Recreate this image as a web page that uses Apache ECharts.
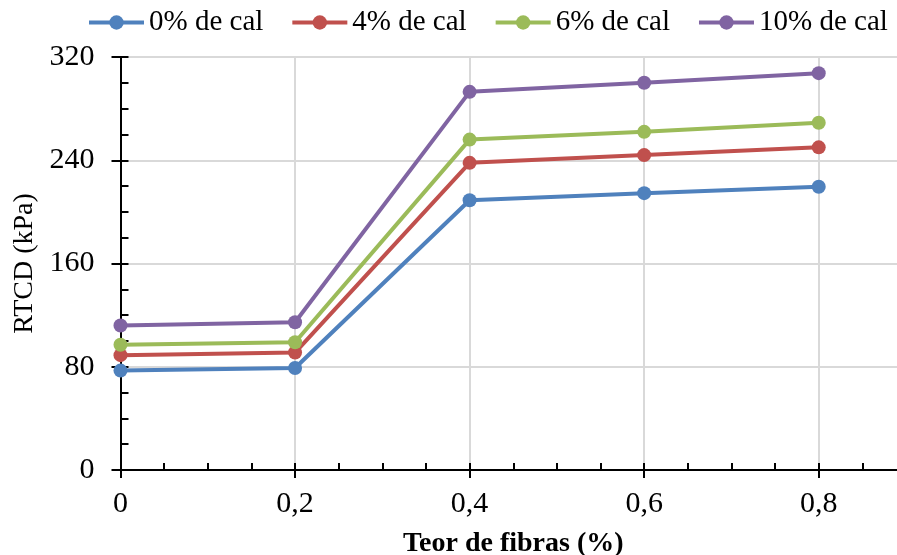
<!DOCTYPE html>
<html>
<head>
<meta charset="utf-8">
<script src="https://cdn.jsdelivr.net/npm/echarts@6/dist/echarts.min.js"></script>
<style>html,body{margin:0;padding:0;background:#fff}#c{width:897px;height:555px}</style>
</head>
<body>
<div id="c"></div>
<script>
const fibras = [0, 0.2, 0.4, 0.6, 0.8];
const seriesNames = ['0% de cal', '4% de cal', '6% de cal', '10% de cal'];
const cal0 = [77, 79, 209, 214.5, 219.5];
const cal4 = [89, 91, 238, 244, 250];
const cal6 = [97, 99, 256, 262, 269];
const cal10 = [112, 114.5, 293, 300, 307.5];
const yTicks = [0, 80, 160, 240, 320];
const colors = ['#4F81BD', '#C0504D', '#9BBB59', '#8064A2'];

const FONT = "'Liberation Serif', 'Times New Roman', serif";
const allData = [cal0, cal4, cal6, cal10];
const chart = echarts.init(document.getElementById('c'));
const fmt = v => String(+v.toFixed(2)).replace('.', ',');

chart.setOption({
  animation: false,
  backgroundColor: '#fff',
  textStyle: { fontFamily: FONT },
  legend: {
    left: 82, top: 3,
    itemWidth: 55, itemHeight: 18, itemGap: 27,
    lineStyle: { width: 4 },
    textStyle: { fontFamily: FONT, fontSize: 29, color: '#000' },
    data: seriesNames
  },
  grid: { left: 120.5, right: -9, top: 57, bottom: 85, outerBoundsMode: 'none', containLabel: false },
  xAxis: [
    {
      type: 'value', min: 0, max: 0.9, interval: 0.2,
      name: 'Teor de fibras (%)', nameLocation: 'middle', nameGap: 60,
      nameTextStyle: { fontFamily: FONT, fontSize: 28, fontWeight: 'bold', color: '#000' },
      axisLine: { show: true, onZero: false, lineStyle: { color: '#000', width: 2 } },
      axisTick: { show: true, inside: false, length: 8, lineStyle: { color: '#000', width: 2 } },
      axisLabel: { fontFamily: FONT, fontSize: 30, color: '#000', margin: 19, formatter: fmt, showMaxLabel: false },
      splitLine: { show: true, lineStyle: { color: '#D9D9D9', width: 2 } }
    },
    {
      type: 'value', min: 0, max: 0.9, interval: 0.05, position: 'bottom',
      axisLine: { show: false },
      axisTick: { show: true, inside: true, length: 7, lineStyle: { color: '#000', width: 2 } },
      axisLabel: { show: false },
      splitLine: { show: false }
    },
    {
      type: 'value', min: 0, max: 0.9, position: 'top',
      axisLine: { show: true, lineStyle: { color: '#000', width: 2 } },
      axisTick: { show: false }, axisLabel: { show: false }, splitLine: { show: false }
    }
  ],
  yAxis: [
    {
      type: 'value', min: yTicks[0], max: yTicks[yTicks.length - 1], interval: 80,
      name: 'RTCD (kPa)', nameLocation: 'middle', nameGap: 75,
      nameTextStyle: { fontFamily: FONT, fontSize: 28, color: '#000' },
      axisLine: { show: true, onZero: false, lineStyle: { color: '#000', width: 2 } },
      axisTick: { show: true, inside: false, length: 9, lineStyle: { color: '#000', width: 2 } },
      axisLabel: { fontFamily: FONT, fontSize: 30, color: '#000', margin: 26 },
      splitLine: { show: true, lineStyle: { color: '#D9D9D9', width: 2 } }
    },
    {
      type: 'value', min: 0, max: 320, interval: 20, position: 'left',
      axisLine: { show: false },
      axisTick: { show: true, inside: true, length: 8, lineStyle: { color: '#000', width: 2 } },
      axisLabel: { show: false },
      splitLine: { show: false }
    }
  ],
  series: seriesNames.map((n, i) => ({
    name: n,
    type: 'line',
    xAxisIndex: 0, yAxisIndex: 0,
    data: fibras.map((x, j) => [x, allData[i][j]]),
    symbol: 'circle', symbolSize: 14,
    itemStyle: { color: colors[i] },
    lineStyle: { color: colors[i], width: 4 },
    z: 3 + i
  }))
});
</script>
</body>
</html>
